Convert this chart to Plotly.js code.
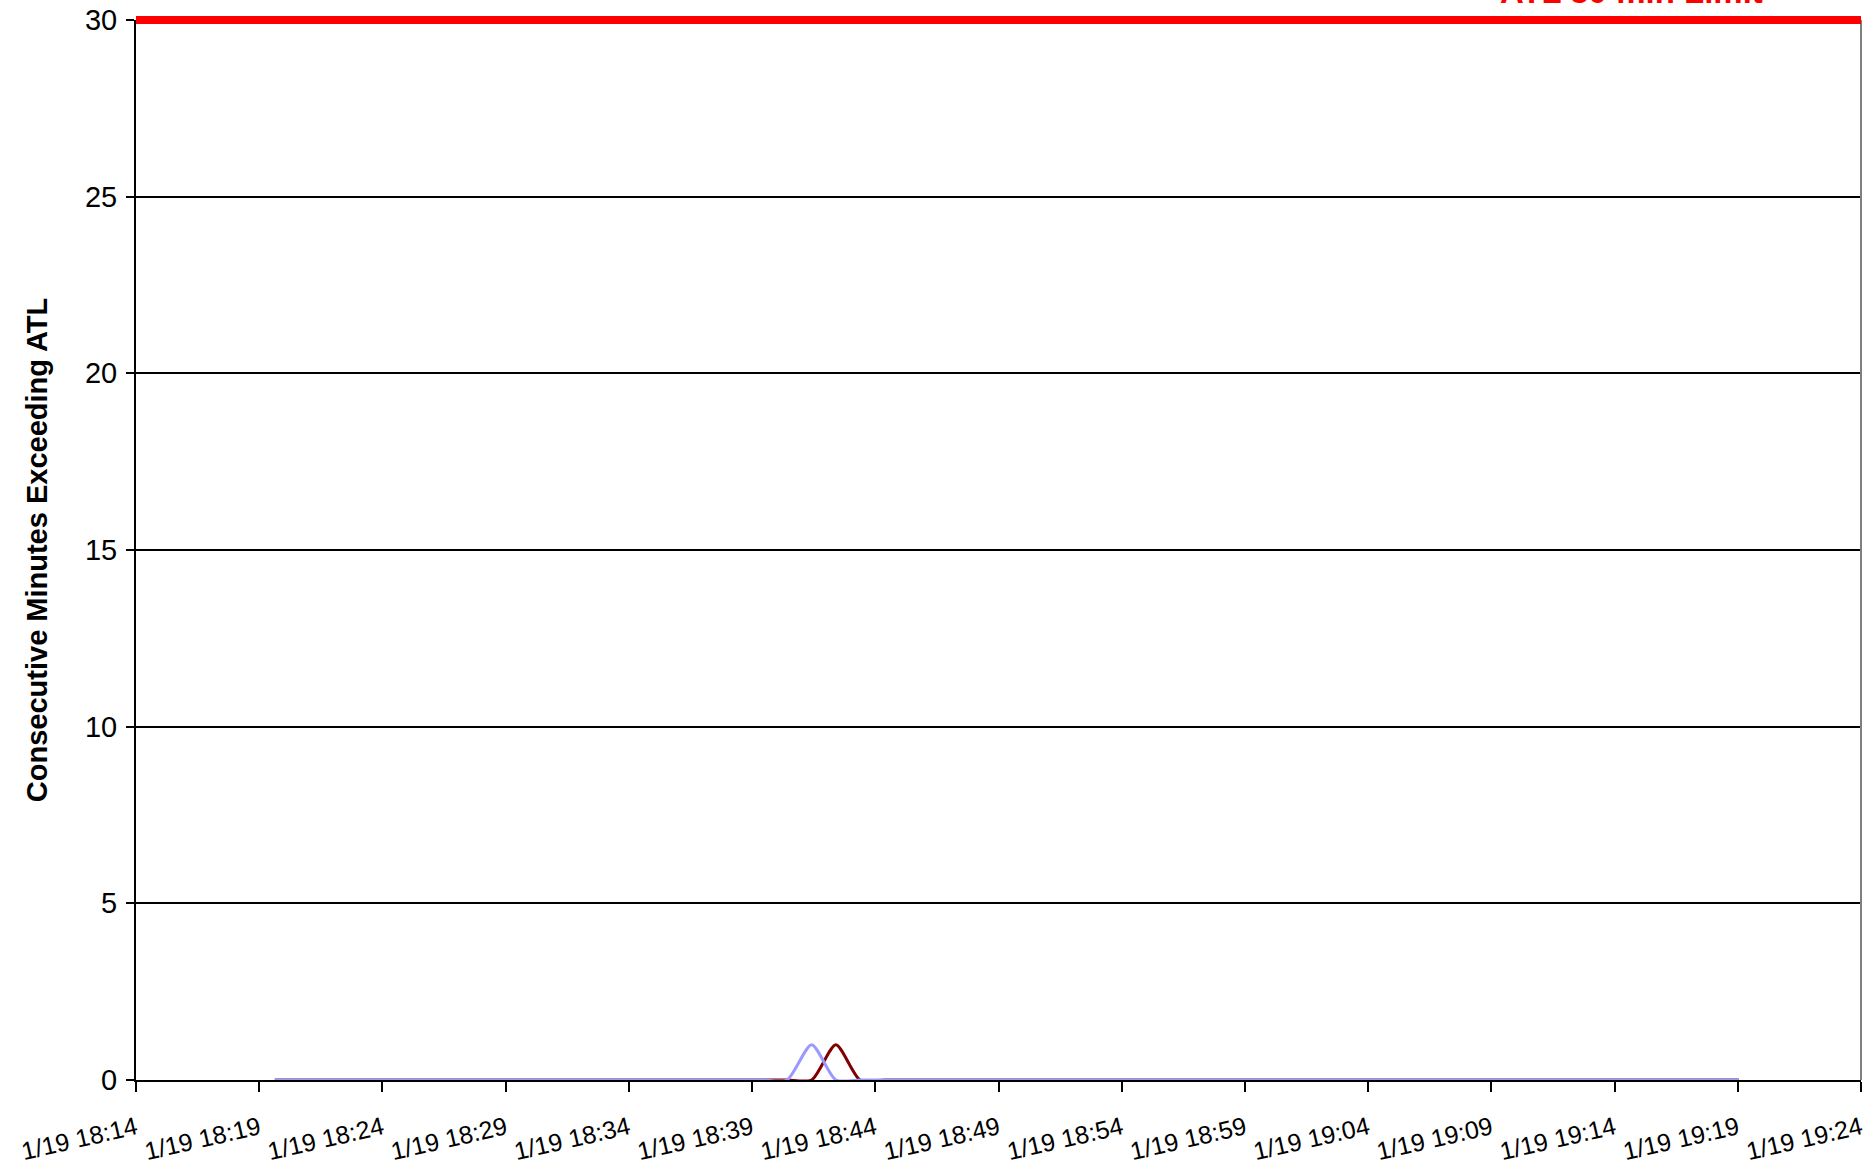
<!DOCTYPE html>
<html>
<head>
<meta charset="utf-8">
<script src="https://cdn.plot.ly/plotly-3.0.1.min.js"></script>
<style>html,body{margin:0;padding:0;background:#fff;}#chart{width:1874px;height:1172px;}</style>
</head>
<body>
<div id="chart"></div>
<script>
// Sample timestamps (roughly one per minute)
const times = [
"2008-01-19 18:19:38","2008-01-19 18:20:37","2008-01-19 18:21:37","2008-01-19 18:22:36","2008-01-19 18:23:35",
"2008-01-19 18:24:35","2008-01-19 18:25:34","2008-01-19 18:26:34","2008-01-19 18:27:33","2008-01-19 18:28:32",
"2008-01-19 18:29:32","2008-01-19 18:30:31","2008-01-19 18:31:31","2008-01-19 18:32:30","2008-01-19 18:33:29",
"2008-01-19 18:34:29","2008-01-19 18:35:28","2008-01-19 18:36:28","2008-01-19 18:37:27","2008-01-19 18:38:26",
"2008-01-19 18:39:26","2008-01-19 18:40:25","2008-01-19 18:41:25","2008-01-19 18:42:24","2008-01-19 18:43:23",
"2008-01-19 18:44:23","2008-01-19 18:45:22","2008-01-19 18:46:22","2008-01-19 18:47:21","2008-01-19 18:48:20",
"2008-01-19 18:49:20","2008-01-19 18:50:19","2008-01-19 18:51:19","2008-01-19 18:52:18","2008-01-19 18:53:17",
"2008-01-19 18:54:17","2008-01-19 18:55:16","2008-01-19 18:56:16","2008-01-19 18:57:15","2008-01-19 18:58:14",
"2008-01-19 18:59:14","2008-01-19 19:00:13","2008-01-19 19:01:13","2008-01-19 19:02:12","2008-01-19 19:03:11",
"2008-01-19 19:04:11","2008-01-19 19:05:10","2008-01-19 19:06:10","2008-01-19 19:07:09","2008-01-19 19:08:08",
"2008-01-19 19:09:08","2008-01-19 19:10:07","2008-01-19 19:11:07","2008-01-19 19:12:06","2008-01-19 19:13:05",
"2008-01-19 19:14:05","2008-01-19 19:15:04","2008-01-19 19:16:04","2008-01-19 19:17:03","2008-01-19 19:18:02",
"2008-01-19 19:19:02"
];
// Consecutive minutes exceeding ATL, series 1 (light blue)
const seriesBlue = [
0,0,0,0,0,0,0,0,0,0,
0,0,0,0,0,0,0,0,0,0,
0,0,1,0,0,0,0,0,0,0,
0,0,0,0,0,0,0,0,0,0,
0,0,0,0,0,0,0,0,0,0,
0,0,0,0,0,0,0,0,0,0,
0
];
// Consecutive minutes exceeding ATL, series 2 (dark red)
const seriesRed = [
0,0,0,0,0,0,0,0,0,0,
0,0,0,0,0,0,0,0,0,0,
0,0,0,1,0,0,0,0,0,0,
0,0,0,0,0,0,0,0,0,0,
0,0,0,0,0,0,0,0,0,0,
0,0,0,0,0,0,0,0,0,0,
0
];
// ATL limit
const limitValue = 30;
const limitLabel = "ATL 30 min Limit";
const yMax = 30;
const axisStart = "2008-01-19 18:14:00";
const axisEnd = "2008-01-19 19:24:00";
const yTitle = "Consecutive Minutes Exceeding ATL";

const FONT = "Liberation Sans, Arial, sans-serif";

const traces = [
  {x: times, y: seriesRed, type: "scatter", mode: "lines",
   line: {color: "#800000", width: 3, shape: "spline", smoothing: 0.7}, showlegend: false},
  {x: times, y: seriesBlue, type: "scatter", mode: "lines",
   line: {color: "#9999FF", width: 3, shape: "spline", smoothing: 0.7}, showlegend: false}
];

const layout = {
  width: 1874, height: 1172,
  margin: {l: 136, r: 13, t: 20, b: 92, pad: 0},
  paper_bgcolor: "#FFFFFF", plot_bgcolor: "#FFFFFF",
  font: {family: FONT, color: "#000000"},
  showlegend: false,
  xaxis: {
    type: "date",
    range: [axisStart, axisEnd],
    tick0: axisStart, dtick: 300000,
    tickformat: "%-m/%-d %H:%M",
    tickangle: -13,
    ticks: "outside", ticklen: 10, tickwidth: 2, tickcolor: "#000",
    ticklabelstandoff: 12,
    showline: true, linecolor: "#000", linewidth: 2,
    showgrid: false, zeroline: false,
    tickfont: {family: FONT, size: 25, color: "#000"},
    automargin: false
  },
  yaxis: {
    range: [0, yMax],
    tick0: 0, dtick: 5,
    ticks: "outside", ticklen: 8, tickwidth: 2, tickcolor: "#000",
    ticklabelstandoff: 3,
    showline: true, linecolor: "#000", linewidth: 2,
    showgrid: true, gridcolor: "#000", gridwidth: 2,
    zeroline: false,
    tickfont: {family: FONT, size: 29, color: "#000"},
    title: {text: yTitle, font: {family: FONT, size: 29, color: "#000", weight: "bold"}, standoff: 29},
    automargin: false
  },
  shapes: [
    {type: "line", xref: "paper", yref: "paper", x0: 1, x1: 1, y0: 0, y1: 1,
     line: {color: "#808080", width: 2}},
    {type: "line", xref: "paper", yref: "paper", x0: 0, x1: 1,
     y0: limitValue / yMax, y1: limitValue / yMax,
     line: {color: "#FF0000", width: 8}}
  ],
  annotations: [
    {text: "<b>" + limitLabel + "</b>", xref: "paper", yref: "paper",
     x: 0.867, y: 1.008, xanchor: "center", yanchor: "bottom", showarrow: false,
     font: {family: FONT, size: 33, color: "#FF0000"}}
  ]
};

Plotly.newPlot("chart", traces, layout, {displayModeBar: false, staticPlot: true});
</script>
</body>
</html>
